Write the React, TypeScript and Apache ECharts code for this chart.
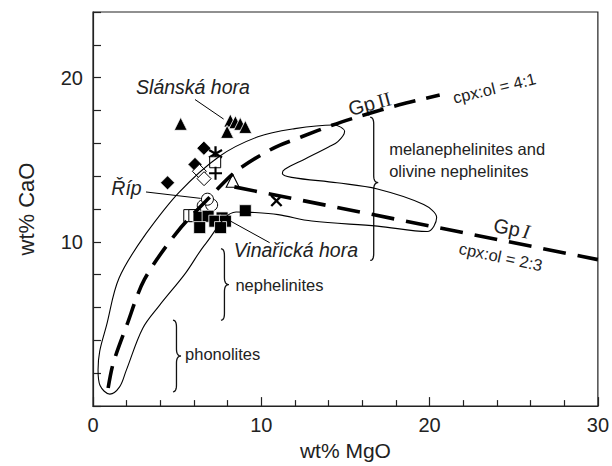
import React, { useEffect, useRef } from "react";
import * as echarts from "echarts";

// ---- axis tick labels ----
const X_TICK_LABELS = [0, 10, 20, 30];
const Y_TICK_LABELS = [10, 20];

// ---- trend lines (wt% MgO, wt% CaO) ----
const gpIILine: number[][] = [
  [0.9, 1.1], [1.2, 2.6], [2.0, 4.9], [3.05, 7.7], [5.0, 10.6], [7.1, 12.9],
  [8.5, 14.3], [10.7, 15.7], [12.4, 16.4], [14.2, 17.1], [16.0, 17.7],
  [18.2, 18.35], [20.6, 18.95],
];
const gpILine: number[][] = [[8.4, 13.35], [30, 8.92]];

// ---- envelope outline ----
const envelope: number[][] = [
  [3.15, 10.5], [5.1, 13.0], [7.5, 15.2], [9.8, 16.4], [12.0, 16.9], [14.3, 17.12],
  [14.95, 16.72], [14.55, 16.1], [14.0, 15.78], [12.6, 15.05], [11.4, 14.42],
  [11.25, 14.18], [11.8, 13.93], [14.5, 13.6], [16.9, 13.22], [19.65, 12.27],
  [20.42, 11.48], [19.86, 10.63], [16.9, 10.96], [13.0, 11.27], [11.0, 11.66],
  [9.4, 11.8], [8.5, 11.82], [6.7, 9.9], [5.5, 8.1], [3.94, 6.12], [2.95, 4.73],
  [1.97, 2.16], [1.58, 1.17], [1.0, 0.73], [0.42, 1.25], [0.3, 2.2], [0.4, 3.35],
  [0.8, 4.9], [1.55, 7.8], [3.15, 10.5],
];

// ---- sample points ----
const slanskaTriangles: number[][] = [[5.21, 17.19], [8.16, 17.39], [8.46, 17.29], [8.75, 17.19], [9.05, 17.0], [7.97, 16.7]];
const filledDiamonds: number[][] = [[6.59, 15.71], [6.06, 14.72], [4.43, 13.6]];
const openDiamonds: number[][] = [[6.32, 14.3], [6.6, 13.85]];
const asterisks: number[][] = [[7.28, 15.37]];
const openSquares: number[][] = [[7.26, 14.85]];
const pluses: number[][] = [[7.28, 14.18]];
const openTriangles: number[][] = [[8.3, 13.72]];
const crosses: number[][] = [[10.9, 12.5]];
const ripCircles: number[][] = [[6.55, 12.2], [7.05, 12.25], [6.8, 12.6]];
const vinarickaOpen: number[][] = [[5.75, 11.6], [6.05, 11.6]];
const vinarickaSquares: number[][] = [
  [6.3, 11.5], [6.84, 11.56], [7.67, 11.46], [7.24, 11.26], [7.87, 11.26],
  [6.34, 10.87], [7.58, 10.87], [9.05, 11.9],
];

// ---- leader lines ----
const slanskaLeader: number[][] = [[6.06, 18.67], [7.76, 17.48]];
const ripLeader: number[][] = [[3.15, 13.04], [6.4, 12.65]];
const vinarickaLeader: number[][] = [[10.5, 9.95], [8.2, 11.25]];

const FONT = "'Liberation Sans', Arial, Helvetica, sans-serif";
const SERIF = "'Liberation Serif', 'Times New Roman', serif";

function barsPath(angles: number[], L: number, w: number): string {
  let d = "";
  for (const a of angles) {
    const r = (a * Math.PI) / 180;
    const dx = Math.cos(r), dy = Math.sin(r);
    const nx = -dy, ny = dx;
    const p = [
      [dx * L + nx * w, dy * L + ny * w],
      [dx * L - nx * w, dy * L - ny * w],
      [-dx * L - nx * w, -dy * L - ny * w],
      [-dx * L + nx * w, -dy * L + ny * w],
    ];
    d += `M${p[0][0].toFixed(3)} ${p[0][1].toFixed(3)} L${p[1][0].toFixed(3)} ${p[1][1].toFixed(3)} L${p[2][0].toFixed(3)} ${p[2][1].toFixed(3)} L${p[3][0].toFixed(3)} ${p[3][1].toFixed(3)} Z `;
  }
  return "path://" + d;
}

function bracePoints(x: number, t: number, m: number, b: number): number[][] {
  const pts: number[][] = [];
  const quad = (p0: number[], c: number[], p1: number[]) => {
    for (let i = 0; i <= 8; i++) {
      const s = i / 8;
      pts.push([
        (1 - s) * (1 - s) * p0[0] + 2 * (1 - s) * s * c[0] + s * s * p1[0],
        (1 - s) * (1 - s) * p0[1] + 2 * (1 - s) * s * c[1] + s * s * p1[1],
      ]);
    }
  };
  const r = 7, hw = 3.5, cw = 4.5;
  quad([x - hw, t], [x, t], [x, t + r]);
  pts.push([x, m - r]);
  quad([x, m - r], [x, m], [x + cw, m]);
  quad([x + cw, m], [x, m], [x, m + r]);
  pts.push([x, b - r]);
  quad([x, b - r], [x, b], [x - hw, b]);
  return pts;
}

export default function App() {
  const ref = useRef<HTMLDivElement>(null);

  useEffect(() => {
    if (!ref.current) return;
    const chart = echarts.init(ref.current, undefined, { renderer: "svg" });

    const lineBase = { type: "line", symbol: "none", silent: true, animation: false };
    const scatter = (name: string, data: number[][], symbol: string, size: any, fill: string, border: string, bw: number, extra: any = {}) => ({
      type: "scatter",
      name,
      data,
      symbol,
      symbolSize: size,
      symbolKeepAspect: true,
      itemStyle: { color: fill, borderColor: border, borderWidth: bw, opacity: 1 },
      ...extra,
    });

    chart.setOption({
      animation: false,
      backgroundColor: "#fff",
      grid: { left: 93, right: 10, top: 12, bottom: 50, show: true, borderColor: "#222", borderWidth: 1.2, backgroundColor: "transparent" },
      xAxis: {
        type: "value",
        min: 0,
        max: 30,
        interval: 10,
        name: "wt% MgO",
        nameLocation: "middle",
        nameGap: 29,
        nameTextStyle: { fontSize: 21, color: "#222", fontFamily: FONT },
        axisLine: { show: true, lineStyle: { color: "#222", width: 1.2 } },
        axisTick: { show: true, inside: true, length: 9, lineStyle: { color: "#222", width: 1.2 } },
        minorTick: { show: true, splitNumber: 5, length: 6, lineStyle: { color: "#222", width: 1.2 } },
        axisLabel: {
          fontSize: 20, color: "#222", fontFamily: FONT, margin: 9,
          formatter: (v: number) => (X_TICK_LABELS.includes(v) ? String(v) : ""),
        },
        splitLine: { show: false },
        minorSplitLine: { show: false },
      },
      yAxis: {
        type: "value",
        min: 0,
        max: 24,
        interval: 2,
        name: "wt% CaO",
        nameLocation: "middle",
        nameGap: 56,
        nameTextStyle: { fontSize: 22, color: "#222", fontFamily: FONT },
        axisLine: { show: true, lineStyle: { color: "#222", width: 1.2 } },
        axisTick: { show: true, inside: true, length: 8, lineStyle: { color: "#222", width: 1.2 } },
        axisLabel: {
          fontSize: 20, color: "#222", fontFamily: FONT, margin: 10,
          formatter: (v: number) => (Y_TICK_LABELS.includes(v) ? String(v) : ""),
        },
        splitLine: { show: false },
      },
      series: [
        { ...lineBase, name: "envelope", data: envelope, smooth: 0.35, lineStyle: { color: "#000", width: 1.1 } },
        { ...lineBase, name: "Gp II (cpx:ol = 4:1)", data: gpIILine, smooth: 0.3, lineStyle: { color: "#000", width: 3.6, type: [22, 11], cap: "butt" } },
        { ...lineBase, name: "Gp I (cpx:ol = 2:3)", data: gpILine, lineStyle: { color: "#000", width: 3.6, type: [23, 12], cap: "butt" } },
        { ...lineBase, name: "Slánská leader", data: slanskaLeader, lineStyle: { color: "#000", width: 1 } },
        { ...lineBase, name: "Říp leader", data: ripLeader, lineStyle: { color: "#000", width: 1 } },
        { ...lineBase, name: "Vinařická leader", data: vinarickaLeader, lineStyle: { color: "#000", width: 1 } },
        scatter("Slánská hora", slanskaTriangles, "triangle", 13, "#000", "#fff", 0.8),
        scatter("filled diamonds", filledDiamonds, "diamond", 14, "#000", "#fff", 0.6),
        scatter("open diamonds", openDiamonds, "diamond", 14, "#fff", "#000", 1),
        scatter("asterisk", asterisks, barsPath([90, 30, 150], 10, 1.5), 15, "#000", "#000", 0),
        scatter("open square", openSquares, "rect", 11, "#fff", "#000", 1),
        scatter("plus", pluses, barsPath([0, 90], 10, 1.6), 13, "#000", "#000", 0),
        scatter("open triangle", openTriangles, "triangle", 13, "#fff", "#000", 1.1),
        scatter("cross", crosses, barsPath([45, 135], 10, 1.6), 12, "#000", "#000", 0),
        scatter("Říp", ripCircles, "circle", 12, "#fff", "#000", 1),
        scatter("Vinařická open", vinarickaOpen, "rect", 12, "#fff", "#000", 1),
        scatter("Vinařická hora", vinarickaSquares, "rect", 12, "#000", "#fff", 0.8),
      ],
    });

    const px = (p: number[]) => chart.convertToPixel({ gridIndex: 0 }, p) as number[];

    const italicLabels = [
      { text: "Slánská hora", at: [2.56, 19.43] },
      { text: "Říp", at: [1.09, 13.26] },
      { text: "Vinařická hora", at: [8.36, 9.52] },
    ];
    const plainLabels = [
      { text: "melanephelinites and\nolivine nephelinites", at: [17.6, 14.98] },
      { text: "nephelinites", at: [8.46, 7.38] },
      { text: "phonolites", at: [5.47, 3.17] },
    ];
    const braces = [
      { x: 16.68, top: 17.59, mid: 13.61, bottom: 8.87 },
      { x: 7.81, top: 9.58, mid: 7.4, bottom: 5.23 },
      { x: 4.96, top: 5.23, mid: 3.05, bottom: 0.87 },
    ];

    const graphic: any[] = [];
    for (const l of italicLabels) {
      const p = px(l.at);
      graphic.push({
        type: "text", x: p[0], y: p[1], silent: true,
        style: { text: l.text, fill: "#222", fontSize: 19.5, fontStyle: "italic", fontFamily: FONT, align: "left", verticalAlign: "middle" },
      });
    }
    for (const l of plainLabels) {
      const p = px(l.at);
      graphic.push({
        type: "text", x: p[0], y: p[1], silent: true,
        style: { text: l.text, fill: "#222", fontSize: 16.5, fontFamily: FONT, align: "left", verticalAlign: "middle", lineHeight: 22 },
      });
    }
    for (const b of braces) {
      const top = px([b.x, b.top]);
      const mid = px([b.x, b.mid]);
      const bot = px([b.x, b.bottom]);
      graphic.push({
        type: "polyline", silent: true,
        shape: { points: bracePoints(top[0], top[1], mid[1], bot[1]) },
        style: { stroke: "#111", lineWidth: 1.3, fill: null },
      });
    }
    const gp2 = px([16.44, 18.42]);
    graphic.push({
      type: "text", x: gp2[0], y: gp2[1], rotation: (15 * Math.PI) / 180, silent: true,
      style: {
        text: "{a|Gp} {b|II}", align: "center", verticalAlign: "middle", fill: "#222",
        rich: {
          a: { fontSize: 20, fontFamily: FONT, fill: "#222" },
          b: { fontSize: 20, fontFamily: SERIF, fill: "#222" },
        },
      },
    });
    const r41 = px([23.85, 19.37]);
    graphic.push({
      type: "text", x: r41[0], y: r41[1], rotation: (13.5 * Math.PI) / 180, silent: true,
      style: { text: "cpx:ol = 4:1", fill: "#222", fontSize: 16.5, fontFamily: FONT, align: "center", verticalAlign: "middle" },
    });
    const gp1 = px([24.88, 10.82]);
    graphic.push({
      type: "text", x: gp1[0], y: gp1[1], rotation: (-11 * Math.PI) / 180, silent: true,
      style: {
        text: "{a|Gp} {b|I}", align: "center", verticalAlign: "middle", fill: "#222",
        rich: {
          a: { fontSize: 20, fontFamily: FONT, fill: "#222" },
          b: { fontSize: 20, fontFamily: SERIF, fontStyle: "italic", fill: "#222" },
        },
      },
    });
    const r23 = px([24.23, 9.1]);
    graphic.push({
      type: "text", x: r23[0], y: r23[1], rotation: (-12 * Math.PI) / 180, silent: true,
      style: { text: "cpx:ol = 2:3", fill: "#222", fontSize: 16.5, fontFamily: FONT, align: "center", verticalAlign: "middle" },
    });

    chart.setOption({ graphic });

    return () => chart.dispose();
  }, []);

  return <div ref={ref} style={{ position: "absolute", left: 0, top: 0, width: 612, height: 466 }} />;
}
